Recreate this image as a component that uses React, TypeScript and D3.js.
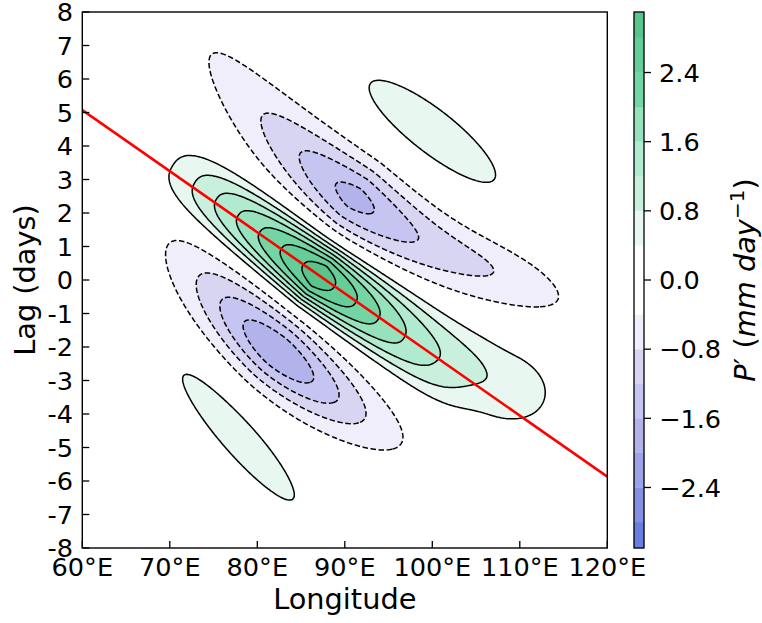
import React, { useEffect, useRef } from 'react';
import * as d3 from 'd3';

// axis ticks
const lonTicks = [60, 70, 80, 90, 100, 110, 120];
const lagTicks = [-8, -7, -6, -5, -4, -3, -2, -1, 0, 1, 2, 3, 4, 5, 6, 7, 8];
const cbarTicks = [-2.4, -1.6, -0.8, 0, 0.8, 1.6, 2.4];

// contourf levels and the colour of each band between them
const fillLevels = [-3.1, -2.8, -2.4, -2.0, -1.6, -1.2, -0.8, -0.4, 0.4, 0.8, 1.2, 1.6, 2.0, 2.4, 2.8, 3.1];
const bandColors = [
  '#6a7de1', '#8590e4', '#9ca3e8', '#b3b3ec', '#c6c4f0', '#d8d5f3', '#efeefa',
  '#ffffff',
  '#e8f8f0', '#c8f0dd', '#b0eacf', '#97e2bd', '#74d5a4', '#65cd98', '#59c58c',
];
// contour lines (negative ones dashed)
const lineLevels = [-2.8, -2.4, -2.0, -1.6, -1.2, -0.8, -0.4, 0.4, 0.8, 1.2, 1.6, 2.0, 2.4, 2.8];

// extrema of the P' field: centre, peak value,
// tilt of the band, half length along it (west / east of the peak), width across it,
// fall-off shapes, bend and how much the north-east flank widens towards the east
const blobLon = [87.05, 108.2, 91.1, 108.0, 82.35, 100.0, 77.8];
const blobLag = [0.12, -3.15, 2.45, 0.4, -2.15, 4.43, -4.66];
const blobAmp = [3.1, 0.7, -1.75, -0.25, -1.95, 0.65, 0.6];
const blobTilt = [-37, -22, -37, -22, -41, -38, -49];
const blobLenWest = [24.1, 10, 17.0, 8, 13.4, 12.9, 15];
const blobLenEast = [22.8, 6.5, 17.0, 8, 13.4, 12.9, 15];
const blobWidth = [3.6, 4.8, 4.2, 3.0, 4.0, 3.6, 3.06];
const blobPow = [0, 2, 1.3, 2, 1.7, 2, 2]; // along the band, 0 = linear (cone) fall-off
const blobAcrossPow = [2.6, 2, 2, 2, 2, 2, 2];
const blobBend = [0, 0, 0.006, 0, 0.004, 0, 0];
const blobFlare = [0.6, 0, 0, 0, 0, 0, 0];

// red propagation line
const phaseLon = [60, 120];
const phaseLag = [5.07, -5.87];

const K = 3.83; // deg longitude per day, so the plot box is isotropic

function cone(u: number) {
  const tau = 0.05;
  const sp = (v: number) => tau * Math.log(1 + Math.exp(v / tau));
  return sp(1 - u) / sp(1);
}

function field(lon: number, lag: number) {
  let v = 0;
  for (let b = 0; b < blobLon.length; b++) {
    const dx = lon - blobLon[b];
    const dy = (lag - blobLag[b]) * K;
    const th = (blobTilt[b] * Math.PI) / 180;
    const s = dx * Math.cos(th) + dy * Math.sin(th);
    let n = -dx * Math.sin(th) + dy * Math.cos(th);
    n -= blobBend[b] * s * s;
    const len = s > 0 ? blobLenEast[b] : blobLenWest[b];
    const u = Math.abs(s) / len;
    const along = blobPow[b] === 0 ? cone(u) : Math.exp(-Math.pow(u, blobPow[b]));
    const w = n > 0 ? blobWidth[b] * (1 + blobFlare[b] * Math.max(0, s) / len) : blobWidth[b];
    const across = Math.exp(-Math.pow(Math.abs(n) / w, blobAcrossPow[b]));
    v += blobAmp[b] * along * across;
  }
  return v;
}

const FONT = 'DejaVu Sans, Verdana, sans-serif';

export default function App() {
  const svgRef = useRef<SVGSVGElement>(null);

  useEffect(() => {
    const svg = d3.select(svgRef.current);
    svg.selectAll('*').remove();

    const left = 82.3, right = 607.3, top = 12, bottom = 548;
    const x = d3.scaleLinear().domain([60, 120]).range([left, right]);
    const y = d3.scaleLinear().domain([-8, 8]).range([bottom, top]);

    // sample the field on a grid a bit larger than the plot
    const lonStart = 58, lagTop = 8.5, dLon = 0.2, dLag = 0.05;
    const nx = 321, ny = 341;
    const values = new Array(nx * ny);
    for (let j = 0; j < ny; j++) {
      for (let i = 0; i < nx; i++) {
        values[j * nx + i] = field(lonStart + i * dLon, lagTop - j * dLag);
      }
    }

    const proj = d3.geoTransform({
      point(px: number, py: number) {
        this.stream.point(x(lonStart + (px - 0.5) * dLon), y(lagTop - (py - 0.5) * dLag));
      },
    });
    const path = d3.geoPath(proj);

    svg.append('defs').append('clipPath').attr('id', 'plotClip')
      .append('rect').attr('x', left).attr('y', top)
      .attr('width', right - left).attr('height', bottom - top);

    const g = svg.append('g').attr('clip-path', 'url(#plotClip)');

    // filled bands, layered from the lowest level up
    const fills = d3.contours().size([nx, ny]).thresholds(fillLevels.slice(0, -1))(values);
    fills.forEach((c, k) => {
      g.append('path').attr('d', path(c as any)).attr('fill', bandColors[k]);
    });

    const lines = d3.contours().size([nx, ny]).thresholds(lineLevels)(values);
    lines.forEach((c) => {
      g.append('path')
        .attr('d', path(c as any))
        .attr('fill', 'none')
        .attr('stroke', '#000')
        .attr('stroke-width', 1.5)
        .attr('stroke-dasharray', c.value < 0 ? '5.5,2.6' : null);
    });

    g.append('line')
      .attr('x1', x(phaseLon[0])).attr('y1', y(phaseLag[0]))
      .attr('x2', x(phaseLon[1])).attr('y2', y(phaseLag[1]))
      .attr('stroke', '#ff0000').attr('stroke-width', 2.6);

    // frame
    svg.append('rect')
      .attr('x', left).attr('y', top).attr('width', right - left).attr('height', bottom - top)
      .attr('fill', 'none').attr('stroke', '#000').attr('stroke-width', 1.4);

    // ticks point inward
    lonTicks.forEach((v) => {
      svg.append('line').attr('x1', x(v)).attr('x2', x(v)).attr('y1', bottom).attr('y2', bottom - 7)
        .attr('stroke', '#000').attr('stroke-width', 1.3);
      svg.append('text').attr('x', x(v)).attr('y', 576).attr('text-anchor', 'middle')
        .attr('font-family', FONT).attr('font-size', 25.6).text(`${v}°E`);
    });
    lagTicks.forEach((v) => {
      svg.append('line').attr('x1', left).attr('x2', left + 7).attr('y1', y(v)).attr('y2', y(v))
        .attr('stroke', '#000').attr('stroke-width', 1.3);
      svg.append('text').attr('x', 73).attr('y', y(v)).attr('dy', '0.36em').attr('text-anchor', 'end')
        .attr('font-family', FONT).attr('font-size', 25.6).text(String(v));
    });

    svg.append('text').attr('x', (left + right) / 2).attr('y', 609).attr('text-anchor', 'middle')
      .attr('font-family', FONT).attr('font-size', 28.8).text('Longitude');
    svg.append('text').attr('transform', `translate(35,${(top + bottom) / 2}) rotate(-90)`)
      .attr('text-anchor', 'middle').attr('font-family', FONT).attr('font-size', 28.8).text('Lag (days)');

    // colour bar
    const cbLeft = 634, cbRight = 644;
    const cy = d3.scaleLinear().domain([-3.1, 3.1]).range([bottom, top]);
    for (let k = 0; k < bandColors.length; k++) {
      svg.append('rect').attr('x', cbLeft).attr('width', cbRight - cbLeft)
        .attr('y', cy(fillLevels[k + 1])).attr('height', cy(fillLevels[k]) - cy(fillLevels[k + 1]))
        .attr('fill', bandColors[k]).attr('stroke', bandColors[k]).attr('stroke-width', 0.3);
    }
    svg.append('rect').attr('x', cbLeft).attr('y', top).attr('width', cbRight - cbLeft).attr('height', bottom - top)
      .attr('fill', 'none').attr('stroke', '#000').attr('stroke-width', 1.3);
    const fmt = d3.format('.1f');
    cbarTicks.forEach((v) => {
      svg.append('line').attr('x1', cbRight).attr('x2', cbRight + 7).attr('y1', cy(v)).attr('y2', cy(v))
        .attr('stroke', '#000').attr('stroke-width', 1.3);
      svg.append('text').attr('x', 659).attr('y', cy(v)).attr('dy', '0.36em')
        .attr('font-family', FONT).attr('font-size', 25.6).text(fmt(v));
    });

    const lab = svg.append('text').attr('transform', `translate(755,${(top + bottom) / 2}) rotate(-90)`)
      .attr('text-anchor', 'middle').attr('font-family', FONT).attr('font-size', 28.8);
    lab.append('tspan').attr('font-style', 'italic').text('P');
    lab.append('tspan').text('′ (');
    lab.append('tspan').attr('font-style', 'italic').text('mm day');
    lab.append('tspan').attr('font-size', 20).attr('dy', -11).text('−1');
    lab.append('tspan').attr('dy', 11).text(')');
  }, []);

  return (
    <svg
      ref={svgRef}
      width={762}
      height={623}
      style={{ position: 'absolute', left: 0, top: 0, background: '#fff' }}
    />
  );
}
